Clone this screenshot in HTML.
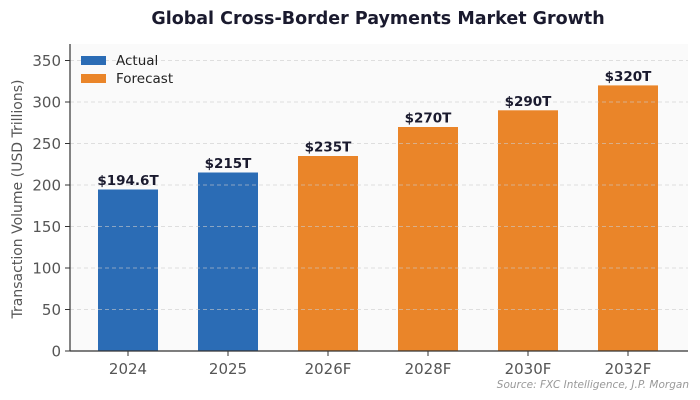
<!DOCTYPE html>
<html><head><meta charset="utf-8"><style>body{margin:0;background:#fff}svg{display:block}</style></head>
<body>
<svg width="700" height="400" xmlns="http://www.w3.org/2000/svg" font-family="DejaVu Sans, Liberation Sans, sans-serif">
<rect width="700" height="400" fill="#fff"/>
<rect x="70" y="44" width="618" height="307" fill="#fafafa"/>
<text x="378" y="24" text-anchor="middle" font-size="17.5" font-weight="bold" fill="#1a1a2e">Global Cross-Border Payments Market Growth</text>
<g fill="#2b6cb5">
<rect x="98" y="189.5" width="60" height="161.5"/>
<rect x="198" y="172.5" width="60" height="178.5"/>
</g>
<g fill="#ea8529">
<rect x="298" y="156" width="60" height="195"/>
<rect x="398" y="127" width="60" height="224"/>
<rect x="498" y="110.3" width="60" height="240.7"/>
<rect x="598" y="85.4" width="60" height="265.6"/>
</g>
<g stroke="#cccccc" stroke-opacity="0.6" stroke-dasharray="4,3" stroke-width="1">
<line x1="70" x2="688" y1="309.5" y2="309.5"/><line x1="70" x2="688" y1="268" y2="268"/>
<line x1="70" x2="688" y1="226.5" y2="226.5"/><line x1="70" x2="688" y1="185" y2="185"/>
<line x1="70" x2="688" y1="143.5" y2="143.5"/><line x1="70" x2="688" y1="102" y2="102"/>
<line x1="70" x2="688" y1="60.5" y2="60.5"/>
</g>
<g stroke="#333" stroke-width="1.2">
<line x1="70" y1="44" x2="70" y2="351"/><line x1="70" y1="351" x2="688" y2="351"/>
</g>
<g stroke="#333">
<line x1="65" x2="70" y1="351" y2="351"/><line x1="65" x2="70" y1="309.5" y2="309.5"/><line x1="65" x2="70" y1="268" y2="268"/><line x1="65" x2="70" y1="226.5" y2="226.5"/><line x1="65" x2="70" y1="185" y2="185"/><line x1="65" x2="70" y1="143.5" y2="143.5"/><line x1="65" x2="70" y1="102" y2="102"/><line x1="65" x2="70" y1="60.5" y2="60.5"/>
<line x1="128" x2="128" y1="351" y2="356"/><line x1="228" x2="228" y1="351" y2="356"/><line x1="328" x2="328" y1="351" y2="356"/><line x1="428" x2="428" y1="351" y2="356"/><line x1="528" x2="528" y1="351" y2="356"/><line x1="628" x2="628" y1="351" y2="356"/>
</g>
<g font-size="15" fill="#555" text-anchor="end">
<text x="61" y="356.5">0</text><text x="61" y="315">50</text><text x="61" y="273.5">100</text><text x="61" y="232">150</text><text x="61" y="190.5">200</text><text x="61" y="149">250</text><text x="61" y="107.5">300</text><text x="61" y="66">350</text>
</g>
<g font-size="15" fill="#555" text-anchor="middle">
<text x="128" y="374">2024</text><text x="228" y="374">2025</text><text x="328" y="374">2026F</text><text x="428" y="374">2028F</text><text x="528" y="374">2030F</text><text x="628" y="374">2032F</text>
</g>
<text transform="translate(22,199) rotate(-90)" text-anchor="middle" font-size="14" fill="#555">Transaction Volume (USD Trillions)</text>
<g font-size="13.5" font-weight="bold" fill="#1a1a2e" text-anchor="middle">
<text x="128" y="185">$194.6T</text><text x="228" y="168">$215T</text><text x="328" y="151.5">$235T</text><text x="428" y="122.5">$270T</text><text x="528" y="105.8">$290T</text><text x="628" y="81">$320T</text>
</g>
<rect x="81" y="56" width="25" height="9" fill="#2b6cb5"/>
<rect x="81" y="74" width="25" height="9" fill="#ea8529"/>
<text x="116" y="65" font-size="13.5" fill="#222">Actual</text>
<text x="116" y="83" font-size="13.5" fill="#222">Forecast</text>
<text x="689" y="388" text-anchor="end" font-size="10.5" font-style="italic" fill="#999">Source: FXC Intelligence, J.P. Morgan</text>
</svg>
</body></html>
